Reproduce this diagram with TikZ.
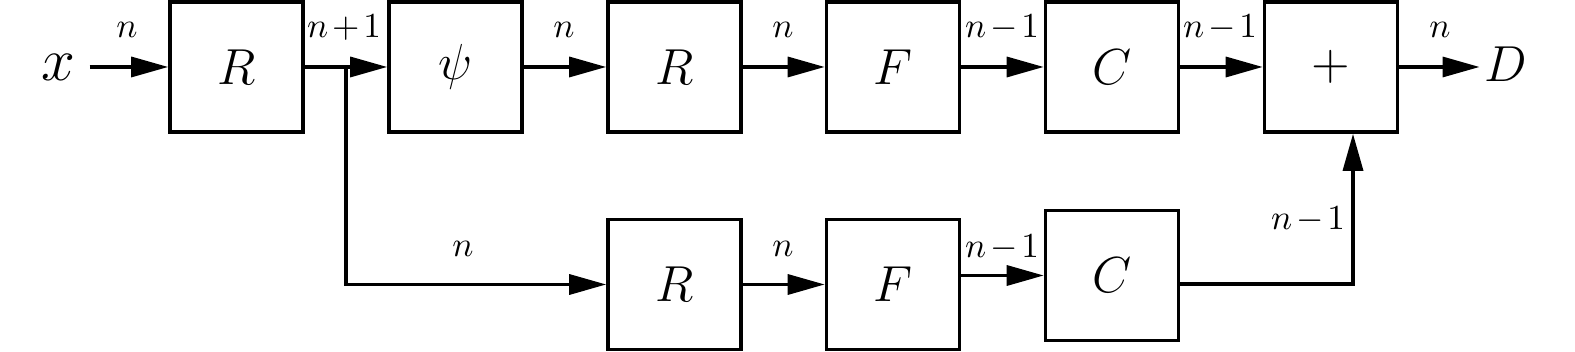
\documentclass[tikz,border=0pt]{standalone}
\usetikzlibrary{arrows.meta,positioning}

\begin{document}
\begin{tikzpicture}[x=0.01cm,y=-0.01cm,line width=0.95pt,
  >={Triangle[length=0.37cm,width=0.2cm]},
  blk/.style={draw,line width=1pt,minimum width=1.33cm,minimum height=1.30cm,inner sep=0pt,
    font=\fontsize{15.5}{18}\selectfont},
  lbl/.style={anchor=base,inner sep=0pt,font=\fontsize{10}{12}\selectfont}]
  \useasboundingbox (0,0) rectangle (1575,352);
  % upper chain
  \node[inner sep=0.13cm,font=\fontsize{16}{18}\selectfont] (x) at (58,67) {$x$};
  \node[blk] (R1) at (236.5,67) {$R$};
  \node[blk] (psi) at (455.5,67) {$\psi$};
  \node[blk] (R2) at (674.5,67) {$R$};
  \node[blk] (F1) at (893,67) {$F$};
  \node[blk] (C1) at (1112,67) {$C$};
  \node[blk] (plus) at (1331,67) {$+$};
  \node[inner sep=1pt,font=\fontsize{15.5}{18}\selectfont] (D) at (1506,64) {$D$};
  % lower chain
  \node[blk] (R3) at (674.5,284.5) {$R$};
  \node[blk] (F2) at (893,284.5) {$F$};
  \node[blk] (C2) at (1112,275.5) {$C$};
  \coordinate (br) at (346,67);
  \draw[->] (x) -- (R1);
  \draw[->] (R1) -- (psi);
  \draw[->] (psi) -- (R2);
  \draw[->] (R2) -- (F1);
  \draw[->] (F1) -- (C1);
  \draw[->] (C1) -- (plus);
  \draw[->] (plus.east) -- (plus.east -| D.west);
  \draw[->] (br) |- (R3);
  \draw[->] (R3) -- (F2);
  \draw[->] (F2.east |- C2.west) -- (C2.west);
  \draw[->] ([yshift=-0.085cm]C2.east) -| ([xshift=0.22cm]plus.south);
  % signal lengths
  \node[lbl] (l1) at (127,38) {$n$};
  \node[lbl] (l2) at (344,38) {$n\mkern2mu{+}\mkern2mu1$};
  \node[lbl] (l3) at (564,38) {$n$};
  \node[lbl] (l4) at (783,38) {$n$};
  \node[lbl] (l5) at (1002,38) {$n\mkern2mu{-}\mkern2mu1$};
  \node[lbl] (l6) at (1220,38) {$n\mkern2mu{-}\mkern2mu1$};
  \node[lbl] (l7) at (1440,38) {$n$};
  \node[lbl] (l8) at (463,257) {$n$};
  \node[lbl] (l9) at (783,257) {$n$};
  \node[lbl] (l10) at (1002,258) {$n\mkern2mu{-}\mkern2mu1$};
  \node[lbl] (l11) at (1308,230) {$n\mkern2mu{-}\mkern2mu1$};
\end{tikzpicture}
\end{document}
